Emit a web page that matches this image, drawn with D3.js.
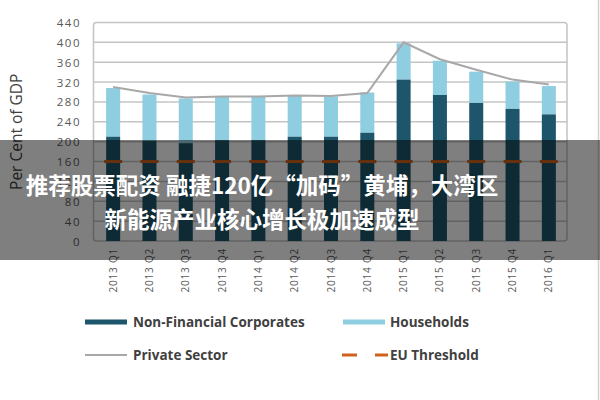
<!DOCTYPE html>
<html><head><meta charset="utf-8">
<script src="https://cdn.jsdelivr.net/npm/d3@7"></script>
<style>body{margin:0;background:#fff}svg{display:block}</style>
</head><body>
<svg id="c" width="600" height="400"></svg>
<script>
const quarters = ["2013 Q1","2013 Q2","2013 Q3","2013 Q4","2014 Q1","2014 Q2","2014 Q3","2014 Q4","2015 Q1","2015 Q2","2015 Q3","2015 Q4","2016 Q1"];
const nonFinancial = [210,202,197,203,203,210,210,218,325,294,278,266,255];
const households  = [98,93,90,87,87,82,81,81,73,69,63,55,57];
const privateSector = [310,298,289,291,291,293,292,298,400,366,345,325,315];
const euThreshold = [160,160,160,160,160,160,160,160,160,160,160,160,160];
const yTicks = [0,40,80,120,160,200,240,280,320,360,400,440];
const overlayLines = ["推荐股票配资 融捷120亿“加码”黄埔，大湾区","新能源产业核心增长极加速成型"];

const svg = d3.select("#c");
const L=95,R=567,T=22.5,B=241;
const x = d3.scaleBand().domain(quarters).range([L,R]).paddingInner(0.614).paddingOuter(0.307);
const y = d3.scaleLinear().domain([0,440]).range([B,T]);
const dark="#1d566b", light="#8fcde0", lineGray="#a8a8a8", orange="#d0611a", txt="#595959";

// right border
svg.append("line").attr("x1",598.5).attr("x2",598.5).attr("y1",0).attr("y2",400).attr("stroke","#d0d0d0").attr("stroke-width",1.5);

// grid
svg.append("g").selectAll("line").data(yTicks.filter(d=>d>0&&d<440)).join("line")
  .attr("x1",L-1).attr("x2",R).attr("y1",d=>y(d)).attr("y2",d=>y(d))
  .attr("stroke","#c4c4c4").attr("stroke-width",1.5);
// frame
svg.append("rect").attr("x",L-1.5).attr("y",T).attr("width",R-L+1.5).attr("height",B-T)
  .attr("rx",3).attr("fill","none").attr("stroke","#c4c4c4").attr("stroke-width",1.5);

// y axis labels
const yAxis = d3.axisLeft(y).tickValues(yTicks).tickSize(0).tickPadding(0);
const yg = svg.append("g").attr("transform",`translate(81,0)`).call(yAxis);
yg.select(".domain").remove();
yg.selectAll("text").attr("fill",txt).style("font-family","Open Sans").style("font-size","11.5px").style("letter-spacing","1.5px").attr("dy","0.35em");

// x axis labels
const xAxis = d3.axisBottom(x).tickSize(0).tickPadding(0);
const xg = svg.append("g").attr("transform",`translate(0,${B})`).call(xAxis);
xg.select(".domain").remove();
xg.selectAll("text").attr("fill",txt).style("font-family","Open Sans").style("font-size","10px").style("letter-spacing","0.8px")
  .attr("text-anchor","end").attr("transform","translate(0,7) rotate(-90)").attr("x",0).attr("y",0).attr("dy","0.35em");

// bars
const bw = x.bandwidth();
svg.append("g").selectAll("rect").data(quarters).join("rect")
  .attr("x",d=>x(d)).attr("width",bw)
  .attr("y",(d,i)=>y(nonFinancial[i]+households[i]))
  .attr("height",(d,i)=>y(nonFinancial[i])-y(nonFinancial[i]+households[i]))
  .attr("fill",light);
svg.append("g").selectAll("rect").data(quarters).join("rect")
  .attr("x",d=>x(d)).attr("width",bw)
  .attr("y",(d,i)=>y(nonFinancial[i]))
  .attr("height",(d,i)=>y(0)-y(nonFinancial[i]))
  .attr("fill",dark);

// EU threshold dashes
svg.append("g").selectAll("line").data(quarters).join("line")
  .attr("x1",d=>x(d)+bw/2-9).attr("x2",d=>x(d)+bw/2+9)
  .attr("y1",(d,i)=>y(euThreshold[i])).attr("y2",(d,i)=>y(euThreshold[i]))
  .attr("stroke",orange).attr("stroke-width",3);

// private sector line
svg.append("path").datum(quarters)
  .attr("d",d3.line().x(d=>x(d)+bw/2).y((d,i)=>y(privateSector[i])))
  .attr("fill","none").attr("stroke",lineGray).attr("stroke-width",2);

// y title
svg.append("text").attr("transform",`translate(22,${(T+B)/2}) rotate(-90)`)
  .attr("text-anchor","middle").attr("fill","#404040")
  .style("font-family","Open Sans").style("font-size","15.5px").text("Per Cent of GDP");

// legend
const lg = svg.append("g").style("font-family","Open Sans").style("font-size","13.5px").style("font-weight","700").attr("fill","#404040");
lg.append("rect").attr("x",85).attr("y",319.5).attr("width",42).attr("height",5).attr("fill",dark);
lg.append("text").attr("x",133).attr("y",322).attr("dy","0.35em").text("Non-Financial Corporates");
lg.append("rect").attr("x",343).attr("y",319.5).attr("width",42).attr("height",5).attr("fill",light);
lg.append("text").attr("x",390).attr("y",322).attr("dy","0.35em").text("Households");
lg.append("line").attr("x1",85).attr("x2",127).attr("y1",355).attr("y2",355).attr("stroke",lineGray).attr("stroke-width",2);
lg.append("text").attr("x",133).attr("y",355).attr("dy","0.35em").text("Private Sector");
lg.append("line").attr("x1",342).attr("x2",357).attr("y1",355).attr("y2",355).attr("stroke",orange).attr("stroke-width",3);
lg.append("line").attr("x1",375).attr("x2",388).attr("y1",355).attr("y2",355).attr("stroke",orange).attr("stroke-width",3);
lg.append("text").attr("x",390).attr("y",355).attr("dy","0.35em").text("EU Threshold");

// overlay banner
svg.append("rect").attr("x",0).attr("y",140).attr("width",600).attr("height",120).attr("fill","rgba(0,0,0,0.5)");
svg.append("g").selectAll("text").data(overlayLines).join("text")
  .attr("x",262).attr("y",(d,i)=>186+i*34).attr("dy","0.35em").attr("text-anchor","middle")
  .attr("fill","#fff").style("font-family","Noto Sans CJK SC").style("font-weight","700").style("font-size","22.5px")
  .text(d=>d);
</script>
</body></html>
